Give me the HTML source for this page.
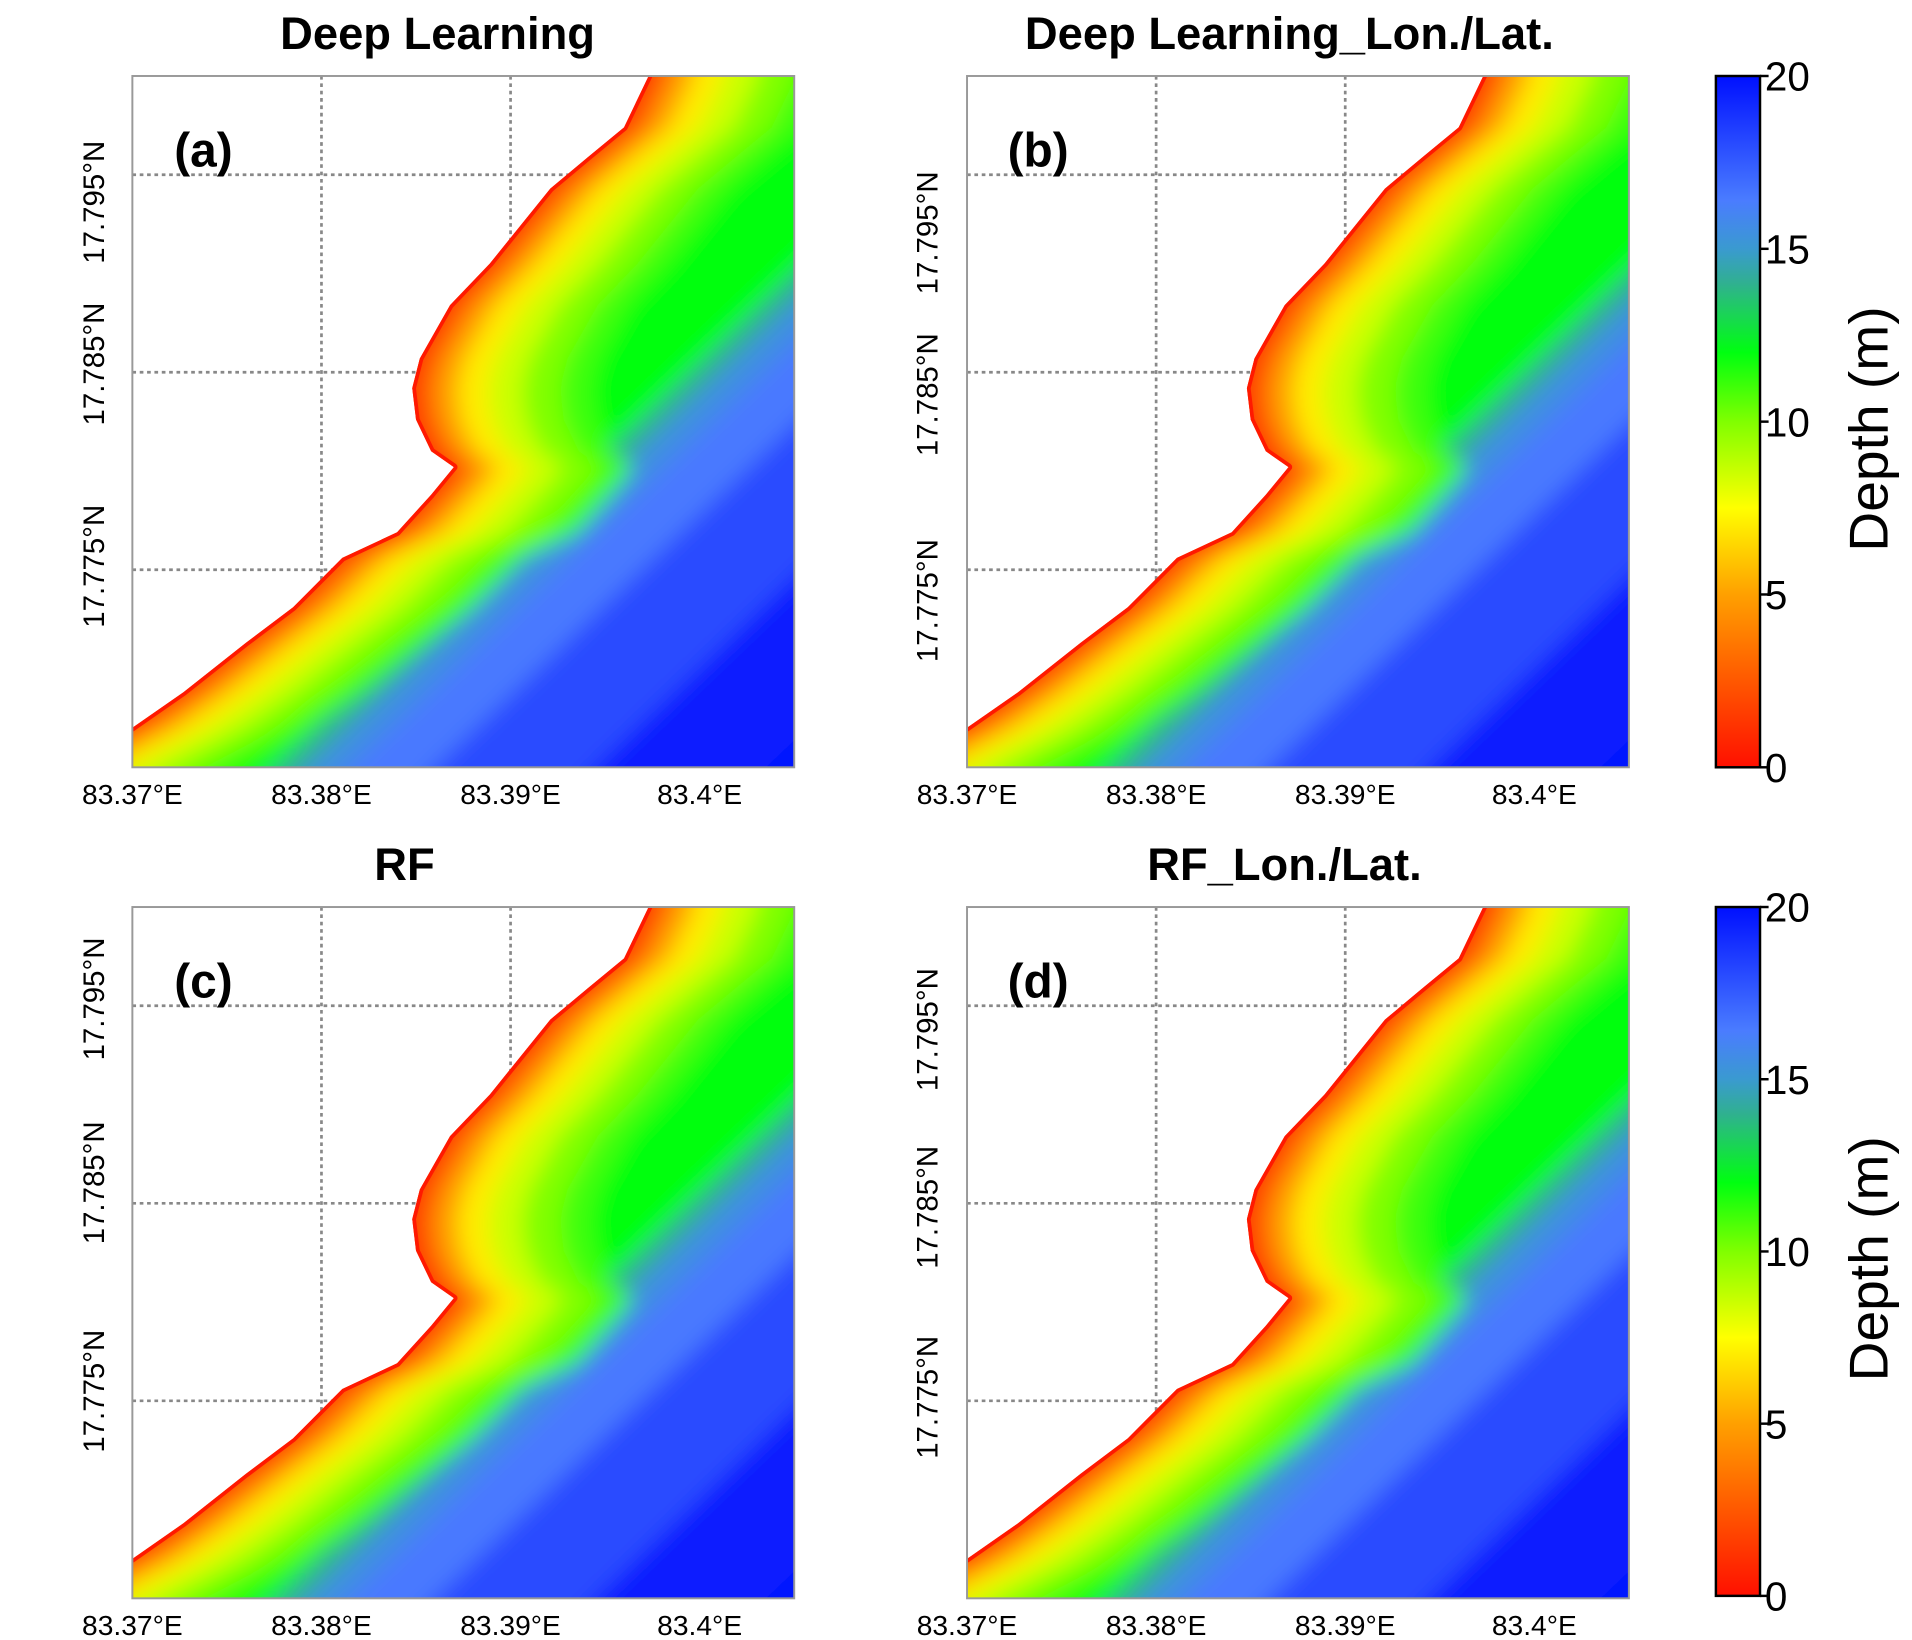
<!DOCTYPE html>
<html><head><meta charset="utf-8"><style>
html,body{margin:0;padding:0;background:#fff;overflow:hidden;width:1912px;height:1640px;}
svg{display:block;font-family:"Liberation Sans",Arial,sans-serif;overflow:hidden;}
</style></head><body>
<svg id="fig" width="1912" height="1640" viewBox="0 0 1560 1338" preserveAspectRatio="none" xmlns="http://www.w3.org/2000/svg">
<defs>
<linearGradient id="cbgrad" x1="0" y1="1" x2="0" y2="0">
<stop offset="0" stop-color="#ff1000"/><stop offset="0.25" stop-color="#ffa000"/>
<stop offset="0.375" stop-color="#ffff00"/><stop offset="0.5" stop-color="#80ff00"/>
<stop offset="0.6" stop-color="#00ff10"/><stop offset="0.7" stop-color="#30b090"/>
<stop offset="0.75" stop-color="#3a9ad0"/><stop offset="0.82" stop-color="#4a7cff"/>
<stop offset="1" stop-color="#0010ff"/></linearGradient>
<filter id="soft" x="-10%" y="-10%" width="120%" height="120%"><feGaussianBlur stdDeviation="9"/></filter>
</defs>
</svg>
<script>
const coastLon=[83.3660,83.3700,83.3727,83.3760,83.3785,83.3811,83.3840,83.3858,83.3870,83.3858,83.3850,83.3848,83.3852,83.3868,83.3889,83.3905,83.3921,83.3941,83.3960,83.3973,83.3976];
const coastLat=[17.7650,17.7670,17.7688,17.7713,17.7731,17.7756,17.7769,17.7788,17.7802,17.7810,17.7826,17.7842,17.7857,17.7884,17.7905,17.7924,17.7943,17.7959,17.7974,17.8000,17.8050];
const nearLevels=[11,10,8.5,7,5,3,1.5];
const nearOffsets=[0.0095,0.0078,0.0058,0.0040,0.0024,0.0012,0.0005];
const trendLon=[83.3669,83.3695,83.4078,83.4109];
const trendLat=[17.7624,17.7650,17.8000,17.8031];
const deepLevels=[19.5,18,16.5,15.5,14,12];
const deepOffsets=[0.034,0.025,0.0165,0.0120,0.0097,0.0080];
const lonTicks=[83.37,83.38,83.39,83.40];
const lonTickLabels=["83.37°E","83.38°E","83.39°E","83.4°E"];
const latTicks=[17.795,17.785,17.775];
const latTickLabels=["17.795°N","17.785°N","17.775°N"];
const cbTicks=[0,5,10,15,20];
const panels=[
 {x:108,y:62,title:"Deep Learning",tag:"(a)",tx:357,lab:[[85,165],[85,297],[85,462]]},
 {x:789,y:62,title:"Deep Learning_Lon./Lat.",tag:"(b)",tx:1052,lab:[[765,190],[765,322],[765,490]]},
 {x:108,y:740,title:"RF",tag:"(c)",tx:330,lab:[[85,815],[85,965],[85,1135]]},
 {x:789,y:740,title:"RF_Lon./Lat.",tag:"(d)",tx:1048,lab:[[765,840],[765,985],[765,1140]]}];
const W=540,H=564,LON0=83.37,LON1=83.405,LAT0=17.765,LAT1=17.80;
const NS="http://www.w3.org/2000/svg";
const svg=document.getElementById('fig');
function mk(t,a,p){const e=document.createElementNS(NS,t);for(const k in a)e.setAttribute(k,a[k]);(p||svg).appendChild(e);return e;}
const cstops=[[0,[255,16,0]],[5,[255,160,0]],[7.5,[255,255,0]],[10,[128,255,0]],[12,[0,255,16]],[14,[48,176,144]],[15,[58,154,208]],[16.4,[74,124,255]],[20,[0,16,255]]];
function cmap(v){for(let i=1;i<cstops.length;i++){if(v<=cstops[i][0]){const a=cstops[i-1],b=cstops[i],t=(v-a[0])/(b[0]-a[0]);return 'rgb('+a[1].map((c,j)=>Math.round(c+(b[1][j]-c)*t)).join(',')+')';}}return 'rgb(0,16,255)';}
panels.forEach((p,pi)=>{
 const xs=lon=>p.x+(lon-LON0)/(LON1-LON0)*W, ys=lat=>p.y+(LAT1-lat)/(LAT1-LAT0)*H;
 const g=mk('g',{});
 
 
 const t=mk('text',{x:p.tx,y:p.y-22,'font-size':37,'text-anchor':'middle','font-weight':'bold',fill:'#000'},g);t.textContent=p.title;
 
 lonTicks.forEach((lo,i)=>{if(i>0&&i<3){const l=mk('line',{x1:xs(lo),x2:xs(lo),y1:p.y,y2:p.y+H,stroke:'#888','stroke-width':2.2,'stroke-dasharray':'3 3'},g);
 }
 const tl=mk('text',{x:xs(lo),y:p.y+H+30,'font-size':23,'text-anchor':'middle',fill:'#000'},g);tl.textContent=lonTickLabels[i];
 });
 latTicks.forEach((la,i)=>{const l=mk('line',{x1:p.x,x2:p.x+W,y1:ys(la),y2:ys(la),stroke:'#888','stroke-width':2.2,'stroke-dasharray':'3 3'},g);
 
 const [lx,ly]=p.lab[i];const tl=mk('text',{x:lx,y:ly,'font-size':24,'text-anchor':'middle',fill:'#000',transform:'rotate(-90 '+lx+' '+ly+')'},g);tl.textContent=latTickLabels[i];
 });
 const cid='sea'+pi;const cp=mk('clipPath',{id:cid},svg.querySelector('defs'));
 let sea=coastLon.map((lo,i)=>xs(lo)+','+ys(coastLat[i]));
 sea.push(xs(83.42)+','+ys(17.81),xs(83.42)+','+ys(17.75));
 mk('polygon',{points:sea.join(' ')},cp);
 const pc='pan'+pi;const cp2=mk('clipPath',{id:pc},svg.querySelector('defs'));
 mk('rect',{x:p.x,y:p.y,width:W,height:H},cp2);
 const outer=mk('g',{'clip-path':'url(#'+pc+')'},g);
 const o2=mk('g',{'clip-path':'url(#'+cid+')'},outer);
 const inner=mk('g',{filter:'url(#soft)'},o2);
 const bg=mk('rect',{x:p.x-20,y:p.y-20,width:W+40,height:H+40,fill:cmap(19.8)},inner);
 
 deepLevels.forEach((d,k)=>{const off=deepOffsets[k];
  let pts=trendLon.map((lo,i)=>xs(lo+off)+','+ys(trendLat[i]));
  pts.push(xs(83.30)+','+ys(17.85),xs(83.30)+','+ys(17.70));
  const b=mk('polygon',{points:pts.join(' '),fill:cmap(d)},inner);
  });
 nearLevels.forEach((d,k)=>{const off=nearOffsets[k];
  let pts=coastLon.map((lo,i)=>xs(lo+off)+','+ys(coastLat[i]));
  pts.push(xs(83.30)+','+ys(17.85),xs(83.30)+','+ys(17.70));
  const b=mk('polygon',{points:pts.join(' '),fill:cmap(d)},inner);
  });
 mk('polygon',{points:sea.join(' '),fill:'none',stroke:cmap(0.3),'stroke-width':6,'stroke-linejoin':'round'},o2);
 mk('rect',{x:p.x,y:p.y,width:W,height:H,fill:'none',stroke:'#999','stroke-width':1.6},g);
 const tg=mk('text',{x:p.x+58,y:p.y+74,'font-size':39,'text-anchor':'middle','font-weight':'bold',fill:'#000'},g);tg.textContent=p.tag;
 
});
[62,740].forEach((cy,ci)=>{
 const g=mk('g',{});
 const h=ci?562:564;
 mk('rect',{x:1400,y:cy,width:36,height:h,fill:'url(#cbgrad)',stroke:'#000','stroke-width':2},g);
 cbTicks.forEach(v=>{const y=cy+h-v/20*h;mk('line',{x1:1436,x2:1443,y1:y,y2:y,stroke:'#000','stroke-width':2},g);
  const tl=mk('text',{x:1440,y:y+12,'font-size':33,fill:'#000'},g);tl.textContent=v;
  });
 const cy2=cy+h/2+6;const tt=mk('text',{x:1540,y:cy2,'font-size':45,'text-anchor':'middle',fill:'#000',transform:'rotate(-90 1540 '+cy2+')'},g);tt.textContent='Depth (m)';
 
});
</script>
</body></html>
